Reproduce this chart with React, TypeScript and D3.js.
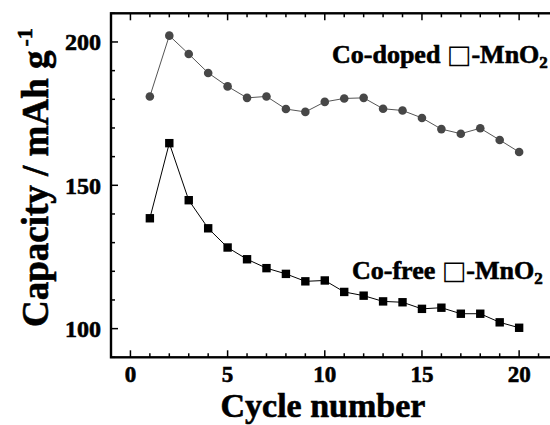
import React from "react";
import * as d3 from "d3";

const cycles = [1,2,3,4,5,6,7,8,9,10,11,12,13,14,15,16,17,18,19,20];
const coDoped = [181.0,202.2,195.8,189.2,184.5,180.5,181.0,176.6,175.6,179.1,180.3,180.5,176.7,176.1,173.5,169.6,168.0,169.9,165.8,161.6];
const coFree = [138.5,164.7,144.8,135.0,128.3,124.2,121.1,119.1,116.5,116.8,112.8,111.5,109.5,109.2,106.9,107.3,105.2,105.2,102.2,100.3];
const xTicks = [0,5,10,15,20];
const yTicks = [100,150,200];

const W = 550, H = 425;
const L = 111, R = 558, T = 13.3, B = 357.3;
const font = "'Liberation Serif','Times New Roman',serif";

export default function App() {
  const x = d3.scaleLinear().domain([-1, 22]).range([L, R]);
  const y = d3.scaleLinear().domain([90, 210]).range([B, T]);
  const line = d3.line<number>().x((_, i) => x(cycles[i])).y(d => y(d));
  const xMinor = d3.range(0, 22, 1);
  const yMinor = d3.range(90, 211, 10);
  const heavy = { stroke: "#000", strokeWidth: 0.6 };
  return (
    <svg width={W} height={H} style={{ position: "absolute", left: 0, top: 0, background: "#fff" }}>
      <rect x={0} y={0} width={W} height={H} fill="#fff" />
      {xMinor.map(v => {
        const major = v % 5 === 0;
        const len = major ? 7 : 4;
        return (
          <g key={"xt" + v}>
            <line x1={x(v)} x2={x(v)} y1={B} y2={B - len} stroke="#000" strokeWidth={1.5} />
            <line x1={x(v)} x2={x(v)} y1={T} y2={T + len} stroke="#000" strokeWidth={1.5} />
          </g>
        );
      })}
      {yMinor.map(v => {
        const major = v % 50 === 0;
        const len = major ? 7 : 4;
        return <line key={"yt" + v} x1={L} x2={L + len} y1={y(v)} y2={y(v)} stroke="#000" strokeWidth={1.5} />;
      })}
      <rect x={L} y={T} width={R - L} height={B - T} fill="none" stroke="#000" strokeWidth={2.4} />
      {xTicks.map(v => (
        <text key={"xl" + v} x={x(v)} y={381.5} textAnchor="middle" fontFamily={font} fontWeight="bold" fontSize={23} {...heavy}>{v}</text>
      ))}
      {yTicks.map(v => (
        <text key={"yl" + v} x={101} y={y(v) + 8.5} textAnchor="end" fontFamily={font} fontWeight="bold" fontSize={24} {...heavy}>{v}</text>
      ))}
      <text x={323} y={416.5} textAnchor="middle" fontFamily={font} fontWeight="bold" fontSize={34} {...heavy}>Cycle number</text>
      <text transform="translate(48,327) rotate(-90)" textAnchor="start" fontFamily={font} fontWeight="bold" fontSize={37} {...heavy}>
        Capacity / mAh g<tspan dx={4} dy={-16} fontSize={22}>-1</tspan>
      </text>
      <path d={line(coDoped) || ""} fill="none" stroke="#555" strokeWidth={1} />
      {coDoped.map((d, i) => (
        <circle key={"c" + i} cx={x(cycles[i])} cy={y(d)} r={4.3} fill="#474747" />
      ))}
      <path d={line(coFree) || ""} fill="none" stroke="#000" strokeWidth={1} />
      {coFree.map((d, i) => (
        <rect key={"s" + i} x={x(cycles[i]) - 4.2} y={y(d) - 4.2} width={8.4} height={8.4} fill="#000" />
      ))}
      <text x={332} y={63} fontFamily={font} fontWeight="bold" fontSize={26} {...heavy}>
        Co-doped <tspan fontFamily="'DejaVu Sans'" fontWeight="normal" fontSize={26} strokeWidth={0}>□</tspan>-MnO<tspan dy={5} fontSize={17}>2</tspan>
      </text>
      <text x={352} y={279} fontFamily={font} fontWeight="bold" fontSize={26} {...heavy}>
        Co-free <tspan fontFamily="'DejaVu Sans'" fontWeight="normal" fontSize={26} strokeWidth={0}>□</tspan>-MnO<tspan dy={5} fontSize={17}>2</tspan>
      </text>
    </svg>
  );
}
